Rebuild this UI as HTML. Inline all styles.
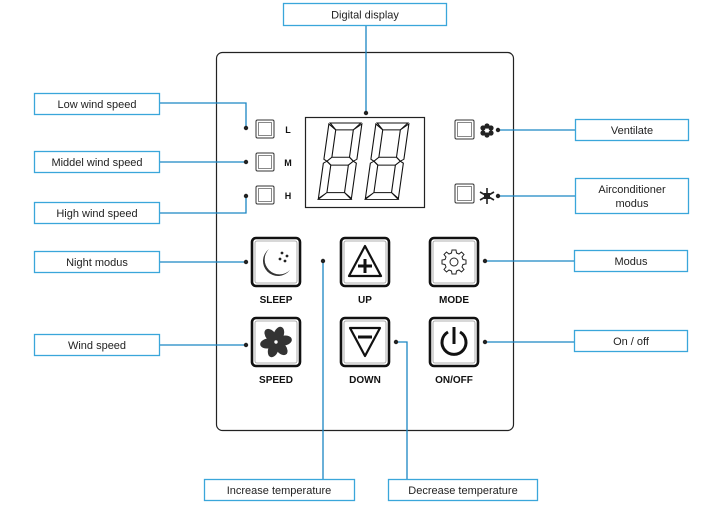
<!DOCTYPE html>
<html><head><meta charset="utf-8"><style>
html,body{margin:0;padding:0;background:#fff;}
svg{display:block;}
.lb{font-family:"Liberation Sans",sans-serif;font-size:11px;fill:#222;text-anchor:middle;}
.bl{font-family:"Liberation Sans",sans-serif;font-size:10px;font-weight:bold;fill:#111;text-anchor:middle;}
.box{fill:#fff;stroke:#3aa6da;stroke-width:1.3;}
.ln{fill:none;stroke:#1a86c4;stroke-width:1.3;}
.seg{fill:#fff;stroke:#111;stroke-width:1;}
</style></head><body>
<svg width="716" height="506" viewBox="0 0 716 506" xmlns="http://www.w3.org/2000/svg">
<rect x="216.5" y="52.5" width="297" height="378" rx="6" fill="#fff" stroke="#222" stroke-width="1.2"/>

<path class="ln" d="M366 25 V113"/>
<path class="ln" d="M159 103 H246 V128"/>
<path class="ln" d="M159 162 H246"/>
<path class="ln" d="M159 213 H246 V196"/>
<path class="ln" d="M159 262 H246"/>
<path class="ln" d="M159 345 H246"/>
<path class="ln" d="M498 130 H575"/>
<path class="ln" d="M498 196 H575"/>
<path class="ln" d="M485 261 H574"/>
<path class="ln" d="M485 342 H574"/>
<path class="ln" d="M323 261 H323 V479"/>
<path class="ln" d="M396 342 H407 V479"/>

<g fill="#222">
<circle cx="366" cy="113" r="2.2"/>
<circle cx="246" cy="128" r="2.2"/><circle cx="246" cy="162" r="2.2"/><circle cx="246" cy="196" r="2.2"/>
<circle cx="246" cy="262" r="2.2"/><circle cx="246" cy="345" r="2.2"/>
<circle cx="498" cy="130" r="2.2"/><circle cx="498" cy="196" r="2.2"/>
<circle cx="485" cy="261" r="2.2"/><circle cx="485" cy="342" r="2.2"/>
<circle cx="323" cy="261" r="2.2"/><circle cx="396" cy="342" r="2.2"/>
</g>

<rect class="box" x="283.5" y="3.5" width="163" height="22"/><text class="lb" x="365" y="18.5">Digital display</text>
<rect class="box" x="34.5" y="93.5" width="125" height="21"/><text class="lb" x="97" y="108">Low wind speed</text>
<rect class="box" x="34.5" y="151.5" width="125" height="21"/><text class="lb" x="97" y="166">Middel wind speed</text>
<rect class="box" x="34.5" y="202.5" width="125" height="21"/><text class="lb" x="97" y="217">High wind speed</text>
<rect class="box" x="34.5" y="251.5" width="125" height="21"/><text class="lb" x="97" y="266">Night modus</text>
<rect class="box" x="34.5" y="334.5" width="125" height="21"/><text class="lb" x="97" y="349">Wind speed</text>
<rect class="box" x="575.5" y="119.5" width="113" height="21"/><text class="lb" x="632" y="134">Ventilate</text>
<rect class="box" x="575.5" y="178.5" width="113" height="35"/><text class="lb" x="632" y="193">Airconditioner</text><text class="lb" x="632" y="207">modus</text>
<rect class="box" x="574.5" y="250.5" width="113" height="21"/><text class="lb" x="631" y="265">Modus</text>
<rect class="box" x="574.5" y="330.5" width="113" height="21"/><text class="lb" x="631" y="345">On / off</text>
<rect class="box" x="204.5" y="479.5" width="150" height="21"/><text class="lb" x="279" y="494">Increase temperature</text>
<rect class="box" x="388.5" y="479.5" width="149" height="21"/><text class="lb" x="463" y="494">Decrease temperature</text>

<g fill="#fff" stroke="#333" stroke-width="1">
<rect x="256" y="120" width="18" height="18" rx="1.5"/><rect x="258.5" y="122.5" width="13" height="13" stroke="#888"/>
<rect x="256" y="153" width="18" height="18" rx="1.5"/><rect x="258.5" y="155.5" width="13" height="13" stroke="#888"/>
<rect x="256" y="186" width="18" height="18" rx="1.5"/><rect x="258.5" y="188.5" width="13" height="13" stroke="#888"/>
<rect x="455" y="120" width="19" height="19" rx="1.5"/><rect x="457.5" y="122.5" width="14" height="14" stroke="#888"/>
<rect x="455" y="184" width="19" height="19" rx="1.5"/><rect x="457.5" y="186.5" width="14" height="14" stroke="#888"/>
</g>
<text class="bl" x="288" y="133" style="font-size:9px">L</text>
<text class="bl" x="288" y="166" style="font-size:9px">M</text>
<text class="bl" x="288" y="199" style="font-size:9px">H</text>
<g fill="#222"><circle cx="487" cy="126" r="2.6"/><circle cx="491" cy="128" r="2.6"/><circle cx="491" cy="133" r="2.6"/><circle cx="487" cy="135" r="2.6"/><circle cx="483" cy="133" r="2.6"/><circle cx="483" cy="128" r="2.6"/></g>
<g stroke="#222" stroke-width="1.6"><path d="M487 188 V204 M480 192 L494 200 M480 200 L494 192"/></g>
<g fill="#222"><rect x="484" y="193" width="6" height="6"/></g>

<rect x="305.5" y="117.5" width="119" height="90" fill="#fff" stroke="#222" stroke-width="1.2"/>
<g id="dg" transform="translate(329,123) skewX(-8) scale(1.1,0.98)">
<polygon class="seg" points="1,0 29,0 23,7 7,7"/>
<polygon class="seg" points="0,1 7,7 7,35 3,39 0,37"/>
<polygon class="seg" points="30,1 30,37 27,39 23,35 23,7"/>
<polygon class="seg" points="3,39 7,35 23,35 27,39 23,43 7,43"/>
<polygon class="seg" points="0,41 3,39 7,43 7,71 0,77"/>
<polygon class="seg" points="30,41 27,39 23,43 23,71 30,77"/>
<polygon class="seg" points="0,78 7,71 23,71 30,78"/>
</g>
<use href="#dg" transform="translate(47,0)"/>

<g fill="#fff" stroke="#111" stroke-width="2.6">
<rect x="252" y="238" width="48" height="48" rx="4"/>
<rect x="341" y="238" width="48" height="48" rx="4"/>
<rect x="430" y="238" width="48" height="48" rx="4"/>
<rect x="252" y="318" width="48" height="48" rx="4"/>
<rect x="341" y="318" width="48" height="48" rx="4"/>
<rect x="430" y="318" width="48" height="48" rx="4"/>
</g>
<g fill="none" stroke="#999" stroke-width="0.8">
<rect x="255" y="241" width="42" height="42" rx="2"/><rect x="344" y="241" width="42" height="42" rx="2"/><rect x="433" y="241" width="42" height="42" rx="2"/>
<rect x="255" y="321" width="42" height="42" rx="2"/><rect x="344" y="321" width="42" height="42" rx="2"/><rect x="433" y="321" width="42" height="42" rx="2"/>
</g>
<path d="M269 249 A15 15 0 1 0 290 270 A12 12 0 0 1 269 249 Z" fill="#333"/>
<g fill="#222"><circle cx="282" cy="253" r="1.4"/><circle cx="287" cy="256" r="1.4"/><circle cx="280" cy="259" r="1.4"/><circle cx="285" cy="261" r="1.4"/></g>
<path d="M365 246 L381 276 L349 276 Z" fill="none" stroke="#111" stroke-width="2.2" stroke-linejoin="round"/>
<path d="M365 259 V273 M358 266 H372" stroke="#111" stroke-width="3"/>
<g transform="translate(454,262)" fill="none" stroke="#222" stroke-width="1">
<path d="M-2,-12 L2,-12 L2.5,-9 L5,-8 L7.5,-10 L10,-7.5 L8,-5 L9,-2.5 L12,-2 L12,2 L9,2.5 L8,5 L10,7.5 L7.5,10 L5,8 L2.5,9 L2,12 L-2,12 L-2.5,9 L-5,8 L-7.5,10 L-10,7.5 L-8,5 L-9,2.5 L-12,2 L-12,-2 L-9,-2.5 L-8,-5 L-10,-7.5 L-7.5,-10 L-5,-8 L-2.5,-9 Z"/>
<circle r="4"/>
</g>
<g transform="translate(276,342)" fill="#333">
<ellipse cx="0" cy="-8" rx="5" ry="8" transform="rotate(20)"/>
<ellipse cx="0" cy="-8" rx="5" ry="8" transform="rotate(80)"/>
<ellipse cx="0" cy="-8" rx="5" ry="8" transform="rotate(140)"/>
<ellipse cx="0" cy="-8" rx="5" ry="8" transform="rotate(200)"/>
<ellipse cx="0" cy="-8" rx="5" ry="8" transform="rotate(260)"/>
<ellipse cx="0" cy="-8" rx="5" ry="8" transform="rotate(320)"/>
<circle r="2.2" fill="#fff" stroke="#333"/>
</g>
<path d="M350 328 L380 328 L365 356 Z" fill="none" stroke="#111" stroke-width="2.2" stroke-linejoin="round"/>
<path d="M358 337 H372" stroke="#111" stroke-width="3"/>
<path d="M448 332 A12 12 0 1 0 460 332" fill="none" stroke="#111" stroke-width="3"/>
<path d="M454 327 V344" stroke="#111" stroke-width="3"/>

<g>
<text class="bl" x="276" y="303">SLEEP</text>
<text class="bl" x="365" y="303">UP</text>
<text class="bl" x="454" y="303">MODE</text>
<text class="bl" x="276" y="383">SPEED</text>
<text class="bl" x="365" y="383">DOWN</text>
<text class="bl" x="454" y="383">ON/OFF</text>
</g>
</svg>
</body></html>
